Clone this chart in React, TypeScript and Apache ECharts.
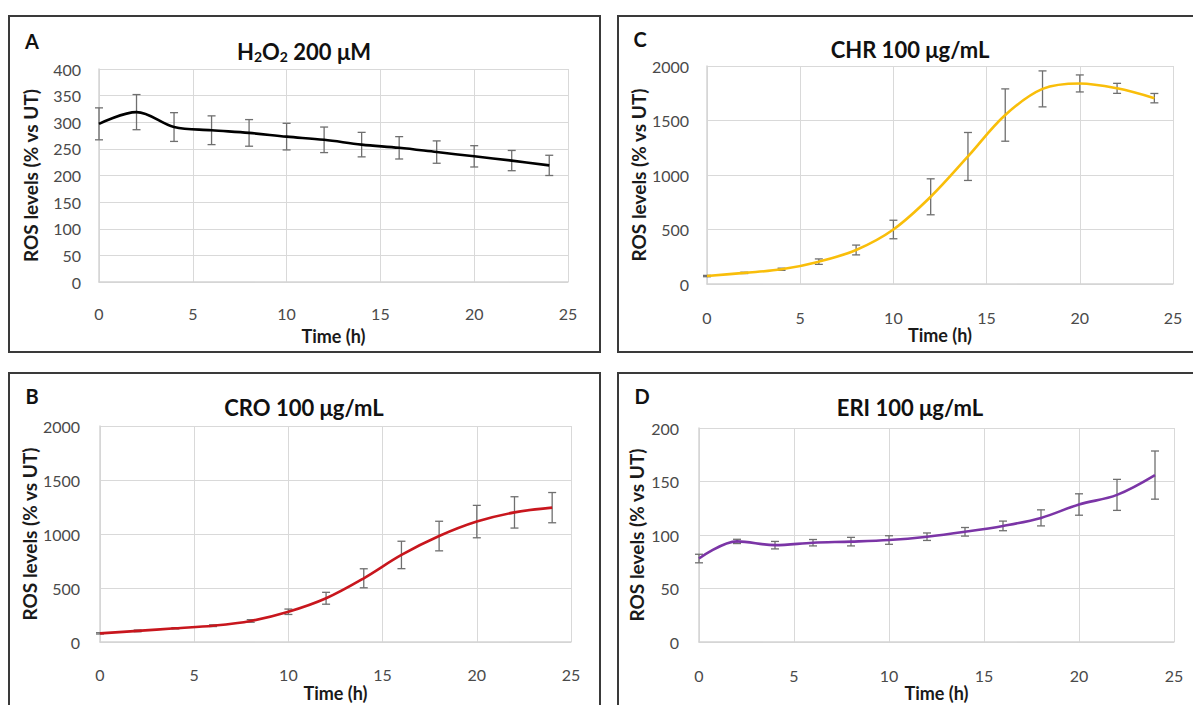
import React, { useEffect, useRef } from "react";
import * as echarts from "echarts";

const TIME = [0, 2, 4, 6, 8, 10, 12, 14, 16, 18, 20, 22, 24];

const A_MEAN = [297, 319, 291, 285, 280, 273, 267, 258, 252, 244, 236, 228, 219];
const A_ERR = [30, 33, 27, 27, 25, 25, 24, 23, 21, 21, 20, 19, 19];

const B_MEAN = [80, 103, 127, 151, 195, 280, 405, 590, 806, 981, 1115, 1200, 1244];
const B_ERR = [6, 8, 6, 8, 12, 25, 55, 88, 127, 137, 150, 145, 140];

const C_MEAN = [73, 102, 135, 205, 312, 500, 800, 1170, 1550, 1790, 1840, 1795, 1705];
const C_ERR = [6, 6, 10, 25, 45, 85, 165, 220, 240, 165, 78, 46, 43];

const D_MEAN = [78, 94, 90.5, 92.8, 93.8, 95.3, 98.4, 103, 108.5, 116, 128.5, 137.5, 156];
const D_ERR = [4, 2, 3.5, 3, 4, 4, 3.5, 4, 4.5, 7.5, 10, 14.5, 22.5];

const FONT = "Lato";

type Panel = {
  letter: string;
  title: string;
  color: string;
  mean: number[];
  err: number[];
  yMax: number;
  yInterval: number;
  grid: { left: number; top: number; width: number; height: number };
  box: { x: number; y: number; w: number; h: number };
  letterPos: [number, number];
  titlePos: [number, number];
  xNameGap: number;
  yNameGap: number;
  xLabelMargin: number;
  yLabelMargin: number;
};

const PANELS: Panel[] = [
  {
    letter: "A",
    title: "H{s|2}O{s|2} 200 μM",
    color: "#000000",
    mean: A_MEAN,
    err: A_ERR,
    yMax: 400,
    yInterval: 50,
    grid: { left: 99, top: 69, width: 469, height: 213 },
    box: { x: 9, y: 16, w: 591, h: 336 },
    letterPos: [32, 41],
    titlePos: [304, 51],
    xNameGap: 45,
    yNameGap: 59,
    xLabelMargin: 23,
    yLabelMargin: 18,
  },
  {
    letter: "C",
    title: "CHR 100 μg/mL",
    color: "#F9BE0A",
    mean: C_MEAN,
    err: C_ERR,
    yMax: 2000,
    yInterval: 500,
    grid: { left: 707, top: 66, width: 466, height: 218 },
    box: { x: 618, y: 16, w: 600, h: 336 },
    letterPos: [640, 39],
    titlePos: [910, 49],
    xNameGap: 39,
    yNameGap: 59,
    xLabelMargin: 25,
    yLabelMargin: 18,
  },
  {
    letter: "B",
    title: "CRO 100 μg/mL",
    color: "#C8161D",
    mean: B_MEAN,
    err: B_ERR,
    yMax: 2000,
    yInterval: 500,
    grid: { left: 100, top: 426, width: 471, height: 216 },
    box: { x: 9, y: 373, w: 591, h: 360 },
    letterPos: [32, 396],
    titlePos: [304, 407],
    xNameGap: 42,
    yNameGap: 61,
    xLabelMargin: 24,
    yLabelMargin: 20,
  },
  {
    letter: "D",
    title: "ERI 100 μg/mL",
    color: "#7B35A6",
    mean: D_MEAN,
    err: D_ERR,
    yMax: 200,
    yInterval: 50,
    grid: { left: 699, top: 428, width: 475, height: 214 },
    box: { x: 618, y: 373, w: 600, h: 360 },
    letterPos: [642, 396],
    titlePos: [910, 407],
    xNameGap: 39,
    yNameGap: 53,
    xLabelMargin: 25,
    yLabelMargin: 20,
  },
];

export default function App() {
  const ref = useRef<HTMLDivElement>(null);

  useEffect(() => {
    if (!ref.current) return;
    const chart = echarts.init(ref.current, undefined, { renderer: "svg" });

    const grids: any[] = [];
    const xAxes: any[] = [];
    const yAxes: any[] = [];
    const series: any[] = [];
    const graphics: any[] = [];

    PANELS.forEach((p, i) => {
      grids.push({ ...p.grid });
      xAxes.push({
        type: "value",
        gridIndex: i,
        min: 0,
        max: 25,
        interval: 5,
        name: "Time (h)",
        nameLocation: "middle",
        nameGap: p.xNameGap,
        nameTextStyle: { fontFamily: FONT, fontWeight: "bold", fontSize: 18, color: "#1a1a1a" },
        axisLine: { show: true, lineStyle: { color: "#d4d4d4", width: 1.5 } },
        axisTick: { show: false },
        axisLabel: {
          fontFamily: FONT,
          fontSize: 16,
          color: "#4a4a4a",
          margin: p.xLabelMargin,
          formatter: (v: number) => String(v),
        },
        splitLine: { show: true, lineStyle: { color: "#d9d9d9", width: 1 } },
      });
      yAxes.push({
        type: "value",
        gridIndex: i,
        min: 0,
        max: p.yMax,
        interval: p.yInterval,
        name: "ROS levels (% vs UT)",
        nameLocation: "middle",
        nameGap: p.yNameGap,
        nameTextStyle: { fontFamily: FONT, fontWeight: "bold", fontSize: 19, color: "#1a1a1a" },
        axisLine: { show: true, lineStyle: { color: "#d4d4d4", width: 1.5 } },
        axisTick: { show: false },
        axisLabel: {
          fontFamily: FONT,
          fontSize: 16,
          color: "#4a4a4a",
          margin: p.yLabelMargin,
          formatter: (v: number) => String(v),
        },
        splitLine: { show: true, lineStyle: { color: "#d9d9d9", width: 1 } },
      });
      series.push({
        type: "line",
        xAxisIndex: i,
        yAxisIndex: i,
        data: TIME.map((t, k) => [t, p.mean[k]]),
        smooth: 0.35,
        showSymbol: false,
        symbol: "none",
        lineStyle: { color: p.color, width: 2.6 },
        itemStyle: { color: p.color },
      });
      series.push({
        type: "custom",
        xAxisIndex: i,
        yAxisIndex: i,
        data: TIME.map((t, k) => [t, p.mean[k] - p.err[k], p.mean[k] + p.err[k]]),
        encode: { x: 0, y: [1, 2] },
        renderItem: (params: any, api: any) => {
          const x = api.value(0);
          const lo = api.coord([x, api.value(1)]);
          const hi = api.coord([x, api.value(2)]);
          const w = 4;
          const st = { stroke: "#6f6f6f", lineWidth: 1.3 };
          return {
            type: "group",
            children: [
              { type: "line", shape: { x1: hi[0], y1: hi[1], x2: lo[0], y2: lo[1] }, style: st },
              { type: "line", shape: { x1: hi[0] - w, y1: hi[1], x2: hi[0] + w, y2: hi[1] }, style: st },
              { type: "line", shape: { x1: lo[0] - w, y1: lo[1], x2: lo[0] + w, y2: lo[1] }, style: st },
            ],
          };
        },
        z: 3,
      });
      graphics.push({
        type: "rect",
        shape: { x: p.box.x, y: p.box.y, width: p.box.w, height: p.box.h },
        style: { fill: "none", stroke: "#3a3a3a", lineWidth: 2 },
        silent: true,
      });
      graphics.push({
        type: "text",
        x: p.letterPos[0],
        y: p.letterPos[1],
        style: {
          text: p.letter,
          font: `bold 20px ${FONT}`,
          fill: "#111",
          textAlign: "center",
          textVerticalAlign: "middle",
        },
      });
      graphics.push({
        type: "text",
        x: p.titlePos[0],
        y: p.titlePos[1],
        style: {
          text: p.title,
          fontFamily: FONT,
          fontWeight: "bold",
          fontSize: 22,
          fill: "#111",
          textAlign: "center",
          textVerticalAlign: "middle",
          rich: {
            s: { fontFamily: FONT, fontWeight: "bold", fontSize: 14, padding: [10, 0, 0, 0], fill: "#111" },
          },
        },
      });
    });

    chart.setOption({
      animation: false,
      backgroundColor: "#ffffff",
      grid: grids,
      xAxis: xAxes,
      yAxis: yAxes,
      series,
      graphic: graphics,
    });

    return () => chart.dispose();
  }, []);

  return (
    <div
      ref={ref}
      style={{ position: "fixed", left: 0, top: 0, width: 1193, height: 705, background: "#fff" }}
    />
  );
}
